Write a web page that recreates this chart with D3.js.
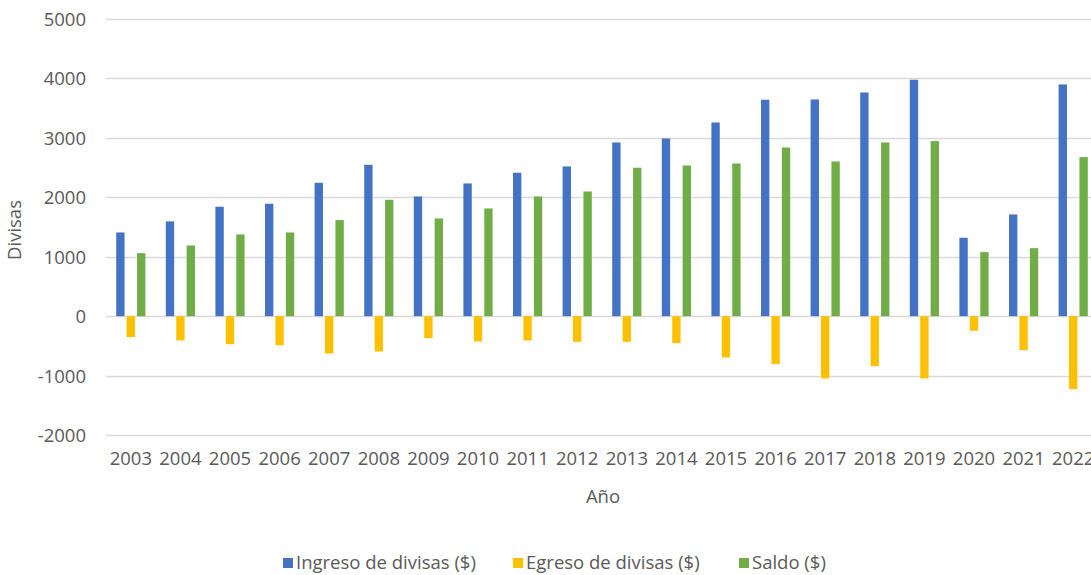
<!DOCTYPE html>
<html>
<head>
<meta charset="utf-8">
<script src="https://cdn.jsdelivr.net/npm/d3@7"></script>
<style>
  html, body { margin: 0; padding: 0; background: #fff; overflow: hidden; }
  text { font-family: "Open Sans", "Liberation Sans", sans-serif; fill: #595959; }
</style>
</head>
<body>
<div id="chart"></div>
<script>
// datos
const years = ['2003', '2004', '2005', '2006', '2007', '2008', '2009', '2010', '2011', '2012',
               '2013', '2014', '2015', '2016', '2017', '2018', '2019', '2020', '2021', '2022'];
const ingreso = [1408, 1594, 1841, 1891, 2244, 2547, 2014, 2233, 2413, 2519,
                 2923, 2990, 3259, 3641, 3646, 3764, 3978, 1319, 1711, 3899];
const egreso = [-353, -409, -471, -488, -628, -594, -370, -426, -409, -432,
                -432, -454, -695, -807, -1048, -841, -1048, -246, -572, -1228];
const saldo = [1060, 1190, 1375, 1408, 1616, 1958, 1644, 1812, 2014, 2098,
               2497, 2536, 2569, 2838, 2603, 2923, 2945, 1077, 1144, 2676];
const yTicks = [-2000, -1000, 0, 1000, 2000, 3000, 4000, 5000];

const seriesNames = ['Ingreso de divisas ($)', 'Egreso de divisas ($)', 'Saldo ($)'];
const seriesColors = ['#4472C4', '#FFC000', '#70AD47'];
const seriesValues = [ingreso, egreso, saldo];

const W = 1091, H = 575;
const plot = { left: 106, right: 1098, top: 19, bottom: 435 };
const fs = '18.5px';

const svg = d3.select('#chart').append('svg')
    .attr('width', W).attr('height', H);

const x = d3.scaleBand().domain(years).range([plot.left, plot.right]).padding(0);
const y = d3.scaleLinear().domain([-2000, 5000]).range([plot.bottom, plot.top]);

// cuadrícula horizontal
svg.append('g')
    .selectAll('line')
    .data(yTicks)
    .join('line')
    .attr('x1', plot.left).attr('x2', plot.right)
    .attr('y1', d => Math.round(y(d)) + 0.5).attr('y2', d => Math.round(y(d)) + 0.5)
    .attr('stroke', '#d9d9d9').attr('stroke-width', 1.3);

// eje Y (guion simple como en Excel)
const yAxis = svg.append('g')
    .attr('transform', `translate(${plot.left - 20},0)`)
    .call(d3.axisLeft(y).tickValues(yTicks).tickSize(0).tickPadding(0).tickFormat(d => String(d)));
yAxis.select('.domain').remove();
yAxis.selectAll('text').style('font-size', fs).attr('dy', '0.35em');

// barras
const inner = d3.scaleBand().domain([0, 1, 2])
    .range([0, x.bandwidth()]).paddingInner(0.2).paddingOuter(0.98);

const groups = svg.append('g')
    .selectAll('g')
    .data(seriesValues)
    .join('g')
    .attr('fill', (d, i) => seriesColors[i]);

groups.each(function (vals, si) {
    d3.select(this).selectAll('rect')
        .data(vals)
        .join('rect')
        .attr('x', (d, i) => x(years[i]) + inner(si))
        .attr('width', inner.bandwidth())
        .attr('y', d => y(Math.max(0, d)))
        .attr('height', d => Math.abs(y(d) - y(0)));
});

// eje X (etiquetas)
const xAxis = svg.append('g')
    .attr('transform', `translate(0,${plot.bottom + 17})`)
    .call(d3.axisBottom(x).tickSize(0).tickPadding(0));
xAxis.select('.domain').remove();
xAxis.selectAll('text').style('font-size', fs).attr('dy', '0.71em');

// títulos de ejes
svg.append('text')
    .attr('x', 603).attr('y', 503)
    .attr('text-anchor', 'middle')
    .style('font-size', fs)
    .text('Año');

svg.append('text')
    .attr('transform', `translate(21,230) rotate(-90)`)
    .attr('text-anchor', 'middle')
    .style('font-size', fs)
    .text('Divisas');

// leyenda
const legendX = [283, 513, 739];
const legend = svg.append('g')
    .selectAll('g')
    .data(seriesNames)
    .join('g')
    .attr('transform', (d, i) => `translate(${legendX[i]},563)`);
legend.append('rect')
    .attr('x', 0).attr('y', -5).attr('width', 10).attr('height', 10)
    .attr('fill', (d, i) => seriesColors[i]);
legend.append('text')
    .attr('x', 13).attr('dy', '0.35em')
    .style('font-size', fs)
    .text(d => d);
</script>
</body>
</html>
